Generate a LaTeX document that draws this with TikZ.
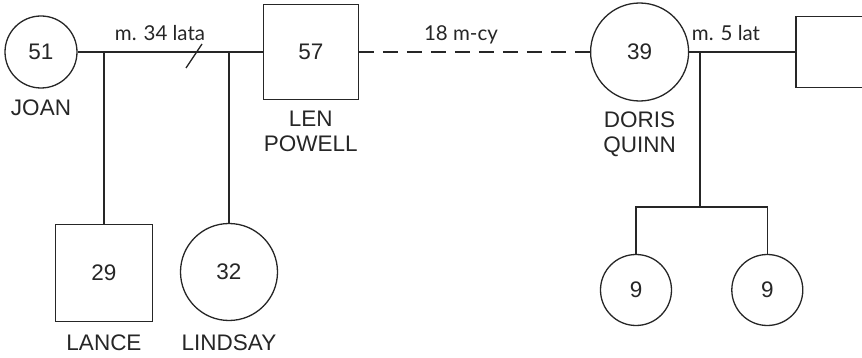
\documentclass[tikz,border=0pt]{standalone}
\usepackage{fontspec}
\setmainfont{Liberation Sans}
\newfontfamily\tagfont{Lato}
\usetikzlibrary{positioning}

\begin{document}
\begin{tikzpicture}[x=1pt, y=-1pt, line width=1.3pt, color=black!85,
  every node/.style={font=\fontsize{22.5}{25}\selectfont},
  female/.style={draw, circle, inner sep=0pt},
  male/.style={draw, rectangle, inner sep=0pt},
  nametag/.style={inner sep=0pt, align=center},
  marr/.style={font=\tagfont\fontsize{20.5}{22}\selectfont, anchor=base}]
  \clip (0,0) rectangle (862,358);

  % first generation
  \node[female, minimum size=72pt] (joan) at (41,52) {51};
  \node[male, minimum size=95pt, right=185pt of joan] (len) {57};
  \node[female, minimum size=98pt, right=231pt of len] (doris) {39};
  \node[male, minimum size=71pt, right=106pt of doris] (partner) {};

  % children
  \node[male, minimum size=97pt] (lance) at (104,273) {29};
  \node[female, minimum size=97pt] (lindsay) at (229,272) {32};
  \node[female, minimum size=71pt] (twina) at (636,290) {9};
  \node[female, minimum size=71pt, right=59pt of twina] (twinb) {9};

  % names
  \node[nametag, below=10pt of joan] (joanname) {JOAN};
  \node[nametag, below=10pt of len] (lenname) {LEN\\POWELL};
  \node[nametag, below=9pt of doris] (dorisname) {DORIS\\QUINN};
  \node[nametag, below=12pt of lance] (lancename) {LANCE};
  \node[nametag, below=13pt of lindsay] (lindsayname) {LINDSAY};

  % partnerships
  \draw (joan) -- (len);
  \draw[dash pattern=on 15pt off 9pt] (len) -- (doris);
  \draw (doris) -- (partner);
  \node[marr] (lab34) at (160,41) {m. 34 lata};
  \node[marr] (lab18) at (461,41) {18 m-cy};
  \node[marr] (lab5) at (726,41) {m. 5 lat};

  % divorce mark
  \coordinate (div) at (194,56);
  \draw ([shift={(-8,12)}]div) -- ([shift={(8,-12)}]div);

  % descent lines
  \draw (lance.north |- joan) -- (lance);
  \draw (lindsay.north |- joan) -- (lindsay);
  \coordinate (fork) at (700,207);
  \draw (fork |- doris) -- (fork);
  \draw (twina) |- (fork) -| (twinb);
\end{tikzpicture}
\end{document}
